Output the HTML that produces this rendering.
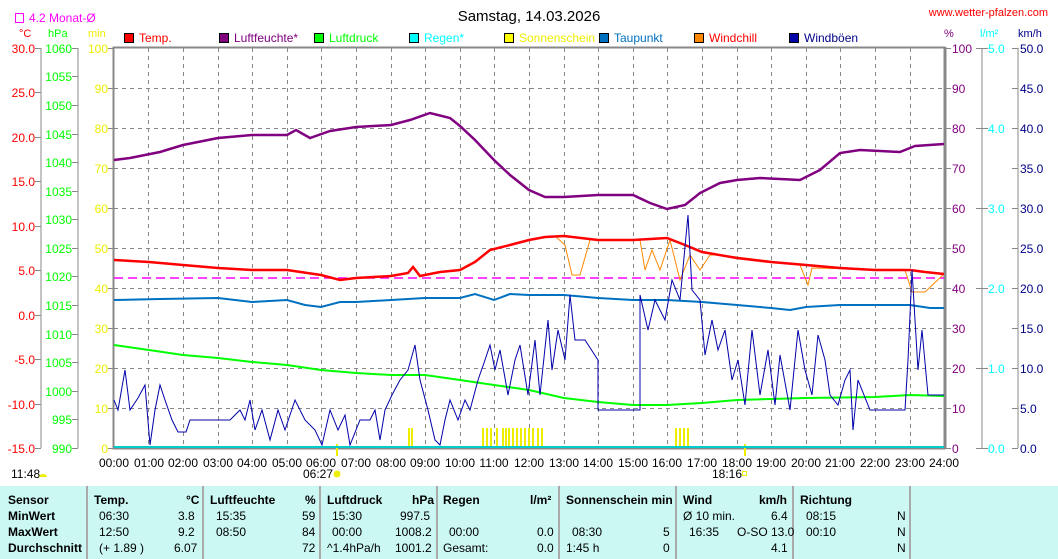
<!DOCTYPE html><html><head><meta charset="utf-8"><style>
body{margin:0;background:#fff;font-family:"Liberation Sans",sans-serif}
svg text{font-family:"Liberation Sans",sans-serif;font-size:12px}
#tb{position:absolute;left:0;top:486px;width:1058px;height:73px;background:#ccf8f4}
#tb div{position:absolute;font-size:12px;line-height:16px;white-space:pre}
.b{font-weight:bold}
.v{position:absolute;top:0;width:2px;height:73px;background:#aaa}
</style></head><body>
<svg width="1058" height="486" style="position:absolute;left:0;top:0">
<text x="529" y="21" font-size="15" text-anchor="middle" style="font-size:15px">Samstag, 14.03.2026</text>
<text x="1048" y="16" fill="#f00" text-anchor="end" style="font-size:11px">www.wetter-pfalzen.com</text>
<rect x="15.5" y="13.5" width="8" height="9" fill="none" stroke="#f0f"/>
<text x="29" y="22" fill="#f0f">4.2 Monat-Ø</text>
<text x="19" y="37" fill="#f00" style="font-size:11px">°C</text>
<text x="48" y="37" fill="#0f0" style="font-size:11px">hPa</text>
<text x="88" y="37" fill="#ee0" style="font-size:11px">min</text>
<text x="944" y="37" fill="#800080" style="font-size:11px">%</text>
<text x="980" y="37" fill="#0ff" style="font-size:11px">l/m²</text>
<text x="1018" y="37" fill="#008" style="font-size:11px">km/h</text>
<g style="font-size:11px">
<rect x="124.5" y="33.5" width="9" height="9" fill="#f00" stroke="#000"/><text x="139" y="42" fill="#f00">Temp.</text>
<rect x="219.5" y="33.5" width="9" height="9" fill="#800080" stroke="#000"/><text x="234" y="42" fill="#800080">Luftfeuchte*</text>
<rect x="314.5" y="33.5" width="9" height="9" fill="#0f0" stroke="#000"/><text x="329" y="42" fill="#0f0">Luftdruck</text>
<rect x="409.5" y="33.5" width="9" height="9" fill="#0ff" stroke="#000"/><text x="424" y="42" fill="#0ff">Regen*</text>
<rect x="504.5" y="33.5" width="9" height="9" fill="#ff0" stroke="#000"/><text x="519" y="42" fill="#ee0">Sonnenschein</text>
<rect x="599.5" y="33.5" width="9" height="9" fill="#0070c0" stroke="#000"/><text x="614" y="42" fill="#0070c0">Taupunkt</text>
<rect x="694.5" y="33.5" width="9" height="9" fill="#f80" stroke="#000"/><text x="709" y="42" fill="#f00">Windchill</text>
<rect x="789.5" y="33.5" width="9" height="9" fill="#00a" stroke="#000"/><text x="804" y="42" fill="#008">Windböen</text>
</g>
<g stroke="#888" stroke-dasharray="4,4" stroke-width="1">
<path d="M148.5 48V448M183.5 48V448M218.5 48V448M252.5 48V448M287.5 48V448M321.5 48V448M356.5 48V448M391.5 48V448M425.5 48V448M460.5 48V448M494.5 48V448M529.5 48V448M564.5 48V448M598.5 48V448M633.5 48V448M667.5 48V448M702.5 48V448M737.5 48V448M771.5 48V448M806.5 48V448M840.5 48V448M875.5 48V448M910.5 48V448"/>
<path d="M114 88.5H944M114 128.5H944M114 168.5H944M114 208.5H944M114 248.5H944M114 288.5H944M114 328.5H944M114 368.5H944M114 408.5H944"/>
</g>
<rect x="113.5" y="47.5" width="831" height="401" fill="none" stroke="#888" stroke-width="2"/>
<line x1="945" y1="47" x2="945" y2="449" stroke="#888" stroke-width="3"/>
<g stroke="#888"><line x1="41" y1="48" x2="41" y2="448"/><line x1="78" y1="48" x2="78" y2="448"/><line x1="982" y1="48" x2="982" y2="448"/><line x1="1018" y1="48" x2="1018" y2="448"/>
<path d="M35 48.5H41M35 92.5H41M35 137.5H41M35 181.5H41M35 226.5H41M35 270.5H41M35 315.5H41M35 359.5H41M35 404.5H41M35 448.5H41"/>
<path d="M72 48.5H78M72 76.5H78M72 105.5H78M72 134.5H78M72 162.5H78M72 191.5H78M72 219.5H78M72 248.5H78M72 276.5H78M72 305.5H78M72 334.5H78M72 362.5H78M72 391.5H78M72 419.5H78M72 448.5H78"/>
<path d="M108 48.5H114M108 88.5H114M108 128.5H114M108 168.5H114M108 208.5H114M108 248.5H114M108 288.5H114M108 328.5H114M108 368.5H114M108 408.5H114M108 448.5H114"/>
<path d="M945 48.5H951M945 88.5H951M945 128.5H951M945 168.5H951M945 208.5H951M945 248.5H951M945 288.5H951M945 328.5H951M945 368.5H951M945 408.5H951M945 448.5H951"/>
<path d="M976 48.5H988M976 128.5H988M976 208.5H988M976 288.5H988M976 368.5H988M976 448.5H988"/>
<path d="M1012 48.5H1018M1012 88.5H1018M1012 128.5H1018M1012 168.5H1018M1012 208.5H1018M1012 248.5H1018M1012 288.5H1018M1012 328.5H1018M1012 368.5H1018M1012 408.5H1018M1012 448.5H1018"/>
</g>
<g fill="#f00" text-anchor="end"><text x="35" y="53">30.0</text><text x="35" y="97">25.0</text><text x="35" y="142">20.0</text><text x="35" y="186">15.0</text><text x="35" y="231">10.0</text><text x="35" y="275">5.0</text><text x="35" y="320">0.0</text><text x="35" y="364">-5.0</text><text x="35" y="409">-10.0</text><text x="35" y="453">-15.0</text></g>
<g fill="#0f0" text-anchor="end"><text x="72" y="53">1060</text><text x="72" y="81">1055</text><text x="72" y="110">1050</text><text x="72" y="139">1045</text><text x="72" y="167">1040</text><text x="72" y="196">1035</text><text x="72" y="224">1030</text><text x="72" y="253">1025</text><text x="72" y="281">1020</text><text x="72" y="310">1015</text><text x="72" y="339">1010</text><text x="72" y="367">1005</text><text x="72" y="396">1000</text><text x="72" y="424">995</text><text x="72" y="453">990</text></g>
<g fill="#ee0" text-anchor="end"><text x="108" y="53">100</text><text x="108" y="93">90</text><text x="108" y="133">80</text><text x="108" y="173">70</text><text x="108" y="213">60</text><text x="108" y="253">50</text><text x="108" y="293">40</text><text x="108" y="333">30</text><text x="108" y="373">20</text><text x="108" y="413">10</text><text x="108" y="453">0</text></g>
<g fill="#800080"><text x="952" y="53">100</text><text x="952" y="93">90</text><text x="952" y="133">80</text><text x="952" y="173">70</text><text x="952" y="213">60</text><text x="952" y="253">50</text><text x="952" y="293">40</text><text x="952" y="333">30</text><text x="952" y="373">20</text><text x="952" y="413">10</text><text x="952" y="453">0</text></g>
<g fill="#0ff"><text x="988" y="53">5.0</text><text x="988" y="133">4.0</text><text x="988" y="213">3.0</text><text x="988" y="293">2.0</text><text x="988" y="373">1.0</text><text x="988" y="453">0.0</text></g>
<g fill="#008"><text x="1020" y="53">50.0</text><text x="1020" y="93">45.0</text><text x="1020" y="133">40.0</text><text x="1020" y="173">35.0</text><text x="1020" y="213">30.0</text><text x="1020" y="253">25.0</text><text x="1020" y="293">20.0</text><text x="1020" y="333">15.0</text><text x="1020" y="373">10.0</text><text x="1020" y="413">5.0</text><text x="1020" y="453">0.0</text></g>
<g text-anchor="middle"><text x="114" y="467">00:00</text><text x="149" y="467">01:00</text><text x="183" y="467">02:00</text><text x="218" y="467">03:00</text><text x="252" y="467">04:00</text><text x="287" y="467">05:00</text><text x="321" y="467">06:00</text><text x="356" y="467">07:00</text><text x="391" y="467">08:00</text><text x="425" y="467">09:00</text><text x="460" y="467">10:00</text><text x="494" y="467">11:00</text><text x="529" y="467">12:00</text><text x="564" y="467">13:00</text><text x="598" y="467">14:00</text><text x="633" y="467">15:00</text><text x="667" y="467">16:00</text><text x="702" y="467">17:00</text><text x="737" y="467">18:00</text><text x="771" y="467">19:00</text><text x="806" y="467">20:00</text><text x="840" y="467">21:00</text><text x="875" y="467">22:00</text><text x="910" y="467">23:00</text><text x="944" y="467">24:00</text></g>
<text x="11" y="478">11:48</text><path d="M39 477a4 3 0 0 1 8 0z" fill="#ee0"/>
<text x="303" y="478">06:27</text><circle cx="337" cy="474" r="3.5" fill="#ee0"/>
<text x="712" y="478">18:16</text><rect x="742.5" y="471.5" width="4" height="4" fill="none" stroke="#ee0"/>
<g fill="#ee0"><rect x="336" y="444" width="2" height="12"/><rect x="744" y="444" width="2" height="12"/>
<rect x="408" y="428" width="2" height="20"/><rect x="411" y="428" width="2" height="20"/><rect x="482" y="428" width="2" height="20"/><rect x="486" y="428" width="2" height="20"/><rect x="490" y="428" width="2" height="20"/><rect x="496" y="428" width="2" height="20"/><rect x="502" y="428" width="2" height="20"/><rect x="505" y="428" width="2" height="20"/><rect x="508" y="428" width="2" height="20"/><rect x="512" y="428" width="2" height="20"/><rect x="516" y="428" width="2" height="20"/><rect x="520" y="428" width="2" height="20"/><rect x="524" y="428" width="2" height="20"/><rect x="528" y="428" width="2" height="20"/><rect x="532" y="428" width="2" height="20"/><rect x="537" y="428" width="2" height="20"/><rect x="541" y="428" width="2" height="20"/><rect x="675" y="428" width="2" height="20"/><rect x="679" y="428" width="2" height="20"/><rect x="683" y="428" width="2" height="20"/><rect x="687" y="428" width="2" height="20"/></g>
<line x1="114" y1="447" x2="944" y2="447" stroke="#0cc" stroke-width="2"/>
<line x1="114" y1="278" x2="944" y2="278" stroke="#f0f" stroke-width="1.5" stroke-dasharray="9,5"/>
<polyline fill="none" stroke="#0f0" stroke-width="2" points="114,345 149,350 183,355 218,358 252,362 287,365 321,370 356,373 391,375 425,375 460,380 494,385 529,390 564,398 598,402 633,405 667,405 702,403 737,400 806,398 875,397 910,395 944,396"/>
<polyline fill="none" stroke="#0070c0" stroke-width="2" points="114,300 160,299 218,298 252,302 287,300 305,305 321,307 340,302 356,302 391,300 425,298 460,298 475,294 494,300 510,294 529,295 564,295 598,298 633,300 667,300 702,302 737,305 771,308 790,310 806,307 840,305 910,305 930,308 944,308"/>
<polyline fill="none" stroke="#f80" stroke-width="1" points="529,240 555,236 565,245 572,275 580,275 590,240 600,240 640,240 645,270 652,250 660,270 670,240 680,280 690,255 700,270 710,255 720,255 800,265 808,285 812,268 905,270 912,292 925,292 944,274"/>
<polyline fill="none" stroke="#f00" stroke-width="2.5" points="114,260 149,262 183,265 218,268 252,270 287,270 321,275 340,280 356,278 391,276 408,273 413,267 420,276 440,272 460,270 475,262 490,250 510,245 529,240 545,237 564,236 598,240 633,240 667,238 685,245 702,252 737,258 771,262 806,265 840,268 875,270 910,270 925,272 944,274"/>
<polyline fill="none" stroke="#800080" stroke-width="2.5" points="114,160 130,158 160,152 183,145 218,138 252,135 287,135 296,130 310,138 330,131 356,127 391,125 410,120 430,113 450,118 460,126 475,140 494,160 510,175 529,190 545,197 564,197 598,195 633,195 650,203 667,209 685,205 700,193 720,183 737,180 760,178 800,180 820,170 840,153 860,150 900,152 915,146 944,144"/>
<polyline fill="none" stroke="#00a" stroke-width="1" points="114,400 118,410 125,370 130,410 138,398 145,385 150,445 155,410 160,385 165,400 172,420 178,432 186,432 190,420 210,420 230,420 240,410 245,420 250,400 255,430 262,410 270,440 278,410 285,430 295,400 305,420 315,430 322,445 330,410 338,430 345,415 350,445 360,420 370,420 375,410 380,440 385,410 392,395 400,380 408,370 415,345 420,380 428,410 435,440 440,445 445,420 450,400 458,420 465,400 470,410 478,380 485,360 490,345 495,370 500,350 508,395 515,360 520,345 528,395 535,340 540,395 548,320 552,370 558,330 565,360 570,295 575,340 585,340 598,360 598,410 640,410 640,295 648,330 655,300 665,320 672,280 680,300 688,215 692,290 700,300 705,355 712,320 718,350 725,330 732,380 738,360 745,405 752,330 760,395 768,350 775,405 780,355 790,410 798,330 805,370 812,395 818,335 825,360 830,395 838,405 845,380 850,370 853,430 858,380 870,410 905,410 908,360 912,270 918,370 922,330 928,395 935,395 944,395"/>
</svg>
<div id="tb">
<div class="v" style="left:86px"></div><div class="v" style="left:202px"></div><div class="v" style="left:319px"></div><div class="v" style="left:436px"></div><div class="v" style="left:558px"></div><div class="v" style="left:675px"></div><div class="v" style="left:792px"></div><div class="v" style="left:909px"></div>
<div class="b" style="left:8px;top:6px">Sensor</div><div class="b" style="left:8px;top:22px">MinWert</div><div class="b" style="left:8px;top:38px">MaxWert</div><div class="b" style="left:8px;top:54px">Durchschnitt</div>
<div class="b" style="left:94px;top:6px">Temp.</div><div class="b" style="left:186px;top:6px">°C</div>
<div style="left:99px;top:22px">06:30</div><div style="left:99px;top:38px">12:50</div><div style="left:99px;top:54px">(+ 1.89 )</div>
<div style="left:178px;top:22px">3.8</div><div style="left:178px;top:38px">9.2</div><div style="left:174px;top:54px">6.07</div>
<div class="b" style="left:210px;top:6px">Luftfeuchte</div><div class="b" style="left:305px;top:6px">%</div>
<div style="left:216px;top:22px">15:35</div><div style="left:216px;top:38px">08:50</div>
<div style="left:302px;top:22px">59</div><div style="left:302px;top:38px">84</div><div style="left:302px;top:54px">72</div>
<div class="b" style="left:327px;top:6px">Luftdruck</div><div class="b" style="left:412px;top:6px">hPa</div>
<div style="left:332px;top:22px">15:30</div><div style="left:332px;top:38px">00:00</div><div style="left:327px;top:54px">^1.4hPa/h</div>
<div style="left:400px;top:22px">997.5</div><div style="left:395px;top:38px">1008.2</div><div style="left:395px;top:54px">1001.2</div>
<div class="b" style="left:443px;top:6px">Regen</div><div class="b" style="left:530px;top:6px">l/m²</div>
<div style="left:449px;top:38px">00:00</div><div style="left:443px;top:54px">Gesamt:</div>
<div style="left:537px;top:38px">0.0</div><div style="left:537px;top:54px">0.0</div>
<div class="b" style="left:566px;top:6px">Sonnenschein min</div>
<div style="left:572px;top:38px">08:30</div><div style="left:566px;top:54px">1:45 h</div>
<div style="left:663px;top:38px">5</div><div style="left:663px;top:54px">0</div>
<div class="b" style="left:683px;top:6px">Wind</div><div class="b" style="left:759px;top:6px">km/h</div>
<div style="left:683px;top:22px">Ø 10 min.</div><div style="left:689px;top:38px">16:35</div>
<div style="left:771px;top:22px">6.4</div><div style="left:737px;top:38px">O-SO 13.0</div><div style="left:771px;top:54px">4.1</div>
<div class="b" style="left:800px;top:6px">Richtung</div>
<div style="left:806px;top:22px">08:15</div><div style="left:806px;top:38px">00:10</div>
<div style="left:897px;top:22px">N</div><div style="left:897px;top:38px">N</div><div style="left:897px;top:54px">N</div>
</div>
</body></html>
